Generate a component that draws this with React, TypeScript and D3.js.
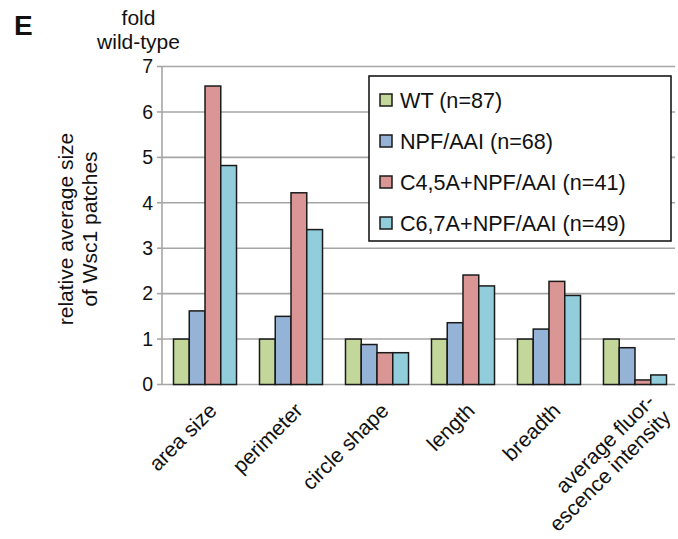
import React from "react";
import * as d3 from "d3";

const categoryLabels: string[][] = [
  ["area size"],
  ["perimeter"],
  ["circle shape"],
  ["length"],
  ["breadth"],
  ["average fluor-", "escence intensity"],
];
const seriesNames = ["WT (n=87)", "NPF/AAI (n=68)", "C4,5A+NPF/AAI (n=41)", "C6,7A+NPF/AAI (n=49)"];
const wtValues = [1, 1, 1, 1, 1, 1];
const npfValues = [1.62, 1.5, 0.88, 1.36, 1.22, 0.81];
const c45Values = [6.57, 4.22, 0.7, 2.41, 2.27, 0.1];
const c67Values = [4.82, 3.41, 0.7, 2.17, 1.96, 0.21];
const yTicks = [0, 1, 2, 3, 4, 5, 6, 7];
const seriesColors = ["#c4d79b", "#95b3d7", "#da9694", "#92cddc"];

const seriesValues = [wtValues, npfValues, c45Values, c67Values];

const W = 678;
const H = 539;
const FONT = "'Liberation Sans', Arial, Helvetica, sans-serif";

export default function App() {
  const plotLeft = 162;
  const plotRight = 675;
  const y = d3.scaleLinear().domain([0, 7]).range([384.5, 66.5]);
  const x0 = d3
    .scaleBand<number>()
    .domain(d3.range(categoryLabels.length))
    .range([plotLeft, 678])
    .paddingInner(0.267)
    .paddingOuter(0.1337);
  const x1 = d3
    .scaleBand<number>()
    .domain(d3.range(seriesNames.length))
    .range([0, x0.bandwidth()])
    .padding(0);

  const legend = { x: 369, y: 76, w: 302, h: 165 };
  const legendRowY = d3.scaleLinear().domain([0, 3]).range([100, 223]);

  return (
    <div style={{ position: "absolute", left: 0, top: 0 }}>
      <svg width={W} height={H} style={{ display: "block", background: "#fff" }} fontFamily={FONT}>
        {/* panel letter */}
        <text x={14} y={35} fontSize={28} fontWeight="bold" fill="#111">E</text>
        {/* unit label */}
        <text x={138.5} y={25} fontSize={21} textAnchor="middle" fill="#111">fold</text>
        <text x={138.5} y={48.5} fontSize={21} textAnchor="middle" fill="#111">wild-type</text>

        {/* y title */}
        <g transform="translate(73,229) rotate(-90)">
          <text x={0} y={0} fontSize={21} textAnchor="middle" fill="#111">relative average size</text>
          <text x={0} y={24} fontSize={21} textAnchor="middle" fill="#111">of Wsc1 patches</text>
        </g>

        {/* gridlines */}
        {yTicks.map((t) => (
          <line key={"g" + t} x1={plotLeft} x2={plotRight} y1={y(t)} y2={y(t)} stroke="#a6a6a6" strokeWidth={1.6} />
        ))}
        {/* y axis */}
        <line x1={plotLeft} x2={plotLeft} y1={y(7)} y2={y(0)} stroke="#a6a6a6" strokeWidth={1.6} />
        {yTicks.map((t) => (
          <g key={"t" + t}>
            <line x1={plotLeft - 5} x2={plotLeft} y1={y(t)} y2={y(t)} stroke="#a6a6a6" strokeWidth={1.6} />
            <text x={153} y={y(t)} dy="0.35em" fontSize={19.5} textAnchor="end" fill="#111">{t}</text>
          </g>
        ))}

        {/* bars */}
        {categoryLabels.map((_, ci) => (
          <g key={"c" + ci} transform={`translate(${x0(ci)},0)`}>
            {seriesValues.map((vals, si) => (
              <rect
                key={si}
                x={x1(si)}
                y={y(vals[ci])}
                width={x1.bandwidth()}
                height={y(0) - y(vals[ci])}
                fill={seriesColors[si]}
                stroke="#1a1a1a"
                strokeWidth={1.5}
              />
            ))}
          </g>
        ))}

        {/* x labels */}
        {categoryLabels.map((lines, ci) => {
          const cx = (x0(ci) as number) + x0.bandwidth() / 2;
          const multi = lines.length > 1;
          const tx = cx + (multi ? 9 : 1);
          const ty = multi ? 391 : 400;
          return (
            <g key={"l" + ci} transform={`translate(${tx},${ty}) rotate(-45)`}>
              {lines.map((ln, li) => (
                <text key={li} x={0} y={0} dy={`${0.8 + li * 1.08}em`} fontSize={21} textAnchor="end" fill="#111">
                  {ln}
                </text>
              ))}
            </g>
          );
        })}

        {/* legend */}
        <rect x={legend.x} y={legend.y} width={legend.w} height={legend.h} fill="#fff" stroke="#1a1a1a" strokeWidth={1.6} />
        {seriesNames.map((name, si) => (
          <g key={"lg" + si}>
            <rect x={380} y={legendRowY(si) - 6} width={12} height={12} fill={seriesColors[si]} stroke="#1a1a1a" strokeWidth={1.5} />
            <text x={400} y={legendRowY(si)} dy="0.36em" fontSize={21.6} fill="#111">{name}</text>
          </g>
        ))}
      </svg>
    </div>
  );
}
